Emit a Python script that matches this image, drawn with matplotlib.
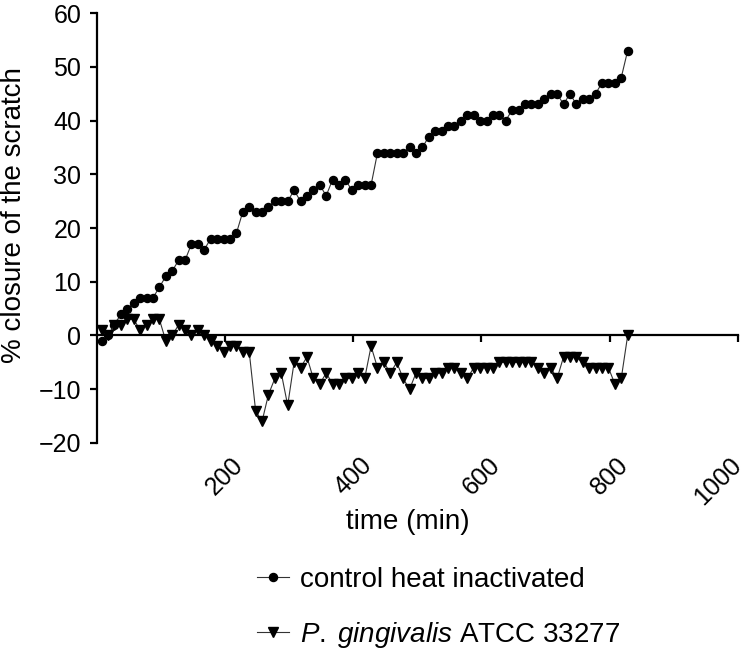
import numpy as np
import matplotlib
matplotlib.use("Agg")
import matplotlib.pyplot as plt
import matplotlib.transforms as mtransforms

plt.rcParams['font.family'] = ['Liberation Sans', 'DejaVu Sans']
plt.rcParams['mathtext.fontset'] = 'custom'
plt.rcParams['mathtext.rm'] = 'Liberation Sans'
plt.rcParams['mathtext.it'] = 'Liberation Sans:italic'

# time points (min), sampled every ~10 min
time_min = [8 + 10 * k for k in range(83)]

control_heat_inactivated = [
    -1, 0, 2, 4, 5, 6, 7, 7, 7, 9, 11, 12, 14, 14, 17, 17, 16, 18, 18, 18,
    18, 19, 23, 24, 23, 23, 24, 25, 25, 25, 27, 25, 26, 27, 28, 26, 29, 28, 29, 27,
    28, 28, 28, 34, 34, 34, 34, 34, 35, 34, 35, 37, 38, 38, 39, 39, 40, 41, 41, 40,
    40, 41, 41, 40, 42, 42, 43, 43, 43, 44, 45, 45, 43, 45, 43, 44, 44, 45, 47, 47,
    47, 48, 53]

p_gingivalis = [
    1, 0, 2, 2, 3, 3, 1, 2, 3, 3, -1, 0, 2, 1, 0, 1, 0, -1, -2, -3,
    -2, -2, -3, -3, -14, -16, -11, -8, -7, -13, -5, -6, -4, -8, -9, -7, -9, -9, -8, -8,
    -7, -8, -2, -6, -5, -7, -5, -8, -10, -7, -8, -8, -7, -7, -6, -6, -7, -8, -6, -6,
    -6, -6, -5, -5, -5, -5, -5, -5, -6, -7, -6, -8, -4, -4, -4, -5, -6, -6, -6, -6,
    -9, -8, 0]

x_ticks = [200, 400, 600, 800, 1000]
y_ticks = [-20, -10, 0, 10, 20, 30, 40, 50, 60]

series_labels = ["control heat inactivated", r"$\it{P.\;gingivalis}$ ATCC 33277"]

fig = plt.figure(figsize=(7.5, 6.52), dpi=100)
ax = fig.add_axes([0.1287, 0.3206, 0.8553, 0.6594])

ax.plot(time_min, control_heat_inactivated, color='#333333', lw=0.8,
        marker='o', ms=5.8, mfc='black', mec='black', label=series_labels[0])
ax.plot(time_min, p_gingivalis, color='#333333', lw=0.8,
        marker='v', ms=6.5, mfc='black', mec='black', label=series_labels[1])

ax.set_xlim(0, 1000)
ax.set_ylim(-20, 60)
ax.set_yticks(y_ticks)
ax.set_xticks(x_ticks)

for s in ['top', 'right']:
    ax.spines[s].set_visible(False)
ax.spines['left'].set_linewidth(1.6)
ax.spines['bottom'].set_linewidth(1.6)
ax.spines['bottom'].set_position(('data', 0))

ax.tick_params(axis='y', direction='out', length=5, width=1.6, labelsize=18, pad=6)
ax.tick_params(axis='x', direction='out', length=5, width=1.6, labelbottom=False)

sec = ax.secondary_xaxis('bottom')
sec.set_xticks(x_ticks)
sec.spines['bottom'].set_visible(False)
sec.tick_params(axis='x', length=0, labelsize=18, pad=7, labelrotation=45)

# nudge the last label so it stays inside the figure
last_lbl = sec.get_xticklabels()[-1]
last_lbl.set_transform(last_lbl.get_transform() +
                       mtransforms.ScaledTranslation(-20 / 100, 0, fig.dpi_scale_trans))

fig.text(408 / 750, 1 - 522 / 652, "time (min)", fontsize=20, ha='center', va='center')
ax.set_ylabel("% closure of the scratch", fontsize=20)
ax.yaxis.set_label_coords(-0.108, 0.53)

handles, labels = ax.get_legend_handles_labels()
fig.legend(handles, labels, loc='center', bbox_to_anchor=(0.585, 0.067),
           frameon=False, fontsize=20, numpoints=1, handlelength=1.15,
           handletextpad=0.4, labelspacing=0.95)

fig.savefig("out.png", dpi=100)
